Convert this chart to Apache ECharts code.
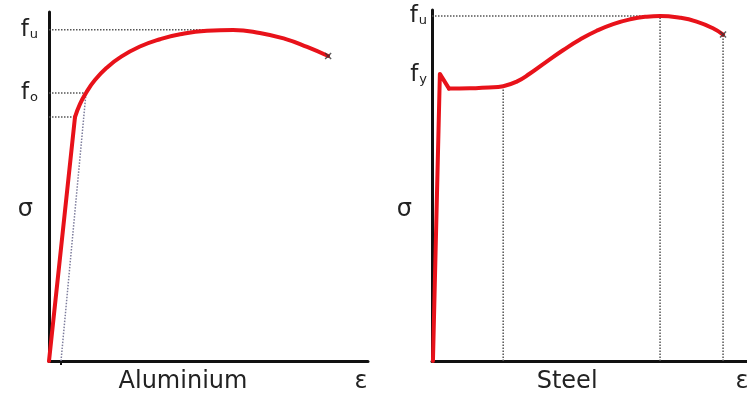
<!DOCTYPE html>
<html lang="en">
<head>
  <meta charset="UTF-8">
  <title>Stress-strain: Aluminium vs Steel</title>
  <script src="https://cdn.jsdelivr.net/npm/echarts@6/dist/echarts.min.js"></script>
</head>
<body style="margin:0;background:#fff;">
<div id="main" style="width: 747px;height:401px;"></div>
<script type="text/javascript">

// aluminium curve (strain, stress) in arbitrary units 0-100
var alElastic = [[0, 0], [8.15, 69.9]];
var alPlastic = [[8.15, 69.9], [9.7, 73.6], [11.6, 76.8], [14.4, 80.5], [18.2, 84.1],
  [22.3, 87.0], [28.5, 90.1], [34.8, 92.2], [41.1, 93.6], [49.5, 94.6], [57.7, 94.85],
  [66.1, 94.0], [74.0, 92.3], [80.9, 90.0], [87.5, 87.4]];
var alEnd = [[87.5, 87.4]];
// dotted guides
var alFu = [[0, 94.9], [57.7, 94.9]];
var alFo = [[0, 76.8], [11.6, 76.8]];
var alProp = [[0, 69.9], [8.15, 69.9]];
var alOffset = [[3.76, 0], [11.6, 76.8]];
var alYTicks = [43.3, 76.8, 94.9];
var alYText = ['{g|σ}', 'f{s|o}', 'f{s|u}'];
var alXTicks = [42.0, 97.8];
var alXText = ['Aluminium', 'ε'];

// steel curve
var stElastic = [[0.3, 0], [2.5, 81.8], [5.4, 77.6]];
var stPlastic = [[5.4, 77.6], [12.0, 77.7], [18.0, 77.9], [22.6, 78.3], [26.9, 79.6],
  [31.1, 81.9], [36.4, 85.3], [41.7, 88.6], [47.0, 91.6], [52.3, 94.1], [57.5, 96.0],
  [62.9, 97.35], [68.2, 98.1], [72.4, 98.3], [78.7, 97.8], [84.0, 96.7], [89.2, 94.8],
  [92.4, 93.0]];
var stEnd = [[92.4, 93.0]];
var stFu = [[0, 98.3], [72.4, 98.3]];
var stV1 = [[22.6, 0], [22.6, 78.3]];
var stV2 = [[72.4, 0], [72.4, 98.3]];
var stV3 = [[92.4, 0], [92.4, 93.0]];
var stYTicks = [43.0, 81.5, 98.3];
var stYText = ['{g|σ}', 'f{s|y}', 'f{s|u}'];
var stXTicks = [42.9, 98.4];
var stXText = ['Steel', 'ε'];

var RED = '#e8121a';
var FONT = 'DejaVu Sans';

function pick(ticks, texts) {
  return function (v) {
    for (var i = 0; i < ticks.length; i++) {
      if (Math.abs(ticks[i] - v) < 0.01) return texts[i];
    }
    return '';
  };
}

function xAxisFor(idx, ticks, texts, tick) {
  return {
    type: 'value', gridIndex: idx, min: 0, max: 100,
    axisLine: { show: true, lineStyle: { color: '#111', width: 3 } },
    splitLine: { show: false },
    axisTick: { show: !!tick, customValues: tick || [], length: 4, lineStyle: { color: '#111', width: 2 } },
    axisLabel: {
      customValues: ticks, formatter: pick(ticks, texts), margin: 9,
      fontFamily: FONT, fontSize: 24, color: '#222'
    }
  };
}

function yAxisFor(idx, ticks, texts, margin, sigmaPad) {
  return {
    type: 'value', gridIndex: idx, min: 0, max: 100,
    axisLine: { show: true, lineStyle: { color: '#111', width: 3 } },
    splitLine: { show: false },
    axisTick: { show: false },
    axisLabel: {
      customValues: ticks, formatter: pick(ticks, texts), margin: margin,
      fontFamily: FONT, fontSize: 23, color: '#222',
      rich: {
        s: { fontFamily: FONT, fontSize: 13, color: '#222', verticalAlign: 'bottom', padding: [10, 0, 0, 1] },
        g: { fontFamily: FONT, fontSize: 24, color: '#222', padding: [0, sigmaPad, 0, 0] }
      }
    }
  };
}

function guide(data, xi, color) {
  return {
    type: 'line', xAxisIndex: xi, yAxisIndex: xi, data: data, symbol: 'none',
    silent: true, z: 1,
    lineStyle: { color: color || '#555', width: 1.5, type: 'dotted' }
  };
}

function curve(data, xi, smooth) {
  return {
    type: 'line', xAxisIndex: xi, yAxisIndex: xi, data: data, symbol: 'none',
    smooth: smooth, z: 3,
    lineStyle: { color: RED, width: 4, cap: 'round', join: 'round' }
  };
}

function endMark(data, xi) {
  return {
    type: 'scatter', xAxisIndex: xi, yAxisIndex: xi, data: data, z: 4,
    symbol: 'path://M0,0L10,10M10,0L0,10', symbolSize: 6,
    itemStyle: { color: 'transparent', borderColor: '#333', borderWidth: 1.5 }
  };
}

var myChart = echarts.init(document.getElementById('main'), null, { renderer: 'canvas' });

var option = {
  animation: false,
  backgroundColor: '#fff',
  grid: [
    { left: 49, top: 12, width: 319, height: 349, outerBoundsMode: 'none' },
    { left: 432, top: 10, width: 315, height: 351, outerBoundsMode: 'none' }
  ],
  xAxis: [
    xAxisFor(0, alXTicks, alXText, [3.76]),
    xAxisFor(1, stXTicks, stXText, null)
  ],
  yAxis: [
    yAxisFor(0, alYTicks, alYText, 11, 5),
    yAxisFor(1, stYTicks, stYText, 5, 15)
  ],
  series: [
    guide(alFu, 0), guide(alFo, 0), guide(alProp, 0), guide(alOffset, 0, '#7d7d9c'),
    curve(alElastic, 0, false),
    curve(alPlastic, 0, 0.5),
    endMark(alEnd, 0),
    guide(stFu, 1), guide(stV1, 1), guide(stV2, 1), guide(stV3, 1),
    curve(stElastic, 1, false),
    curve(stPlastic, 1, 0.5),
    endMark(stEnd, 1)
  ]
};

myChart.setOption(option);

</script>
</body>
</html>
